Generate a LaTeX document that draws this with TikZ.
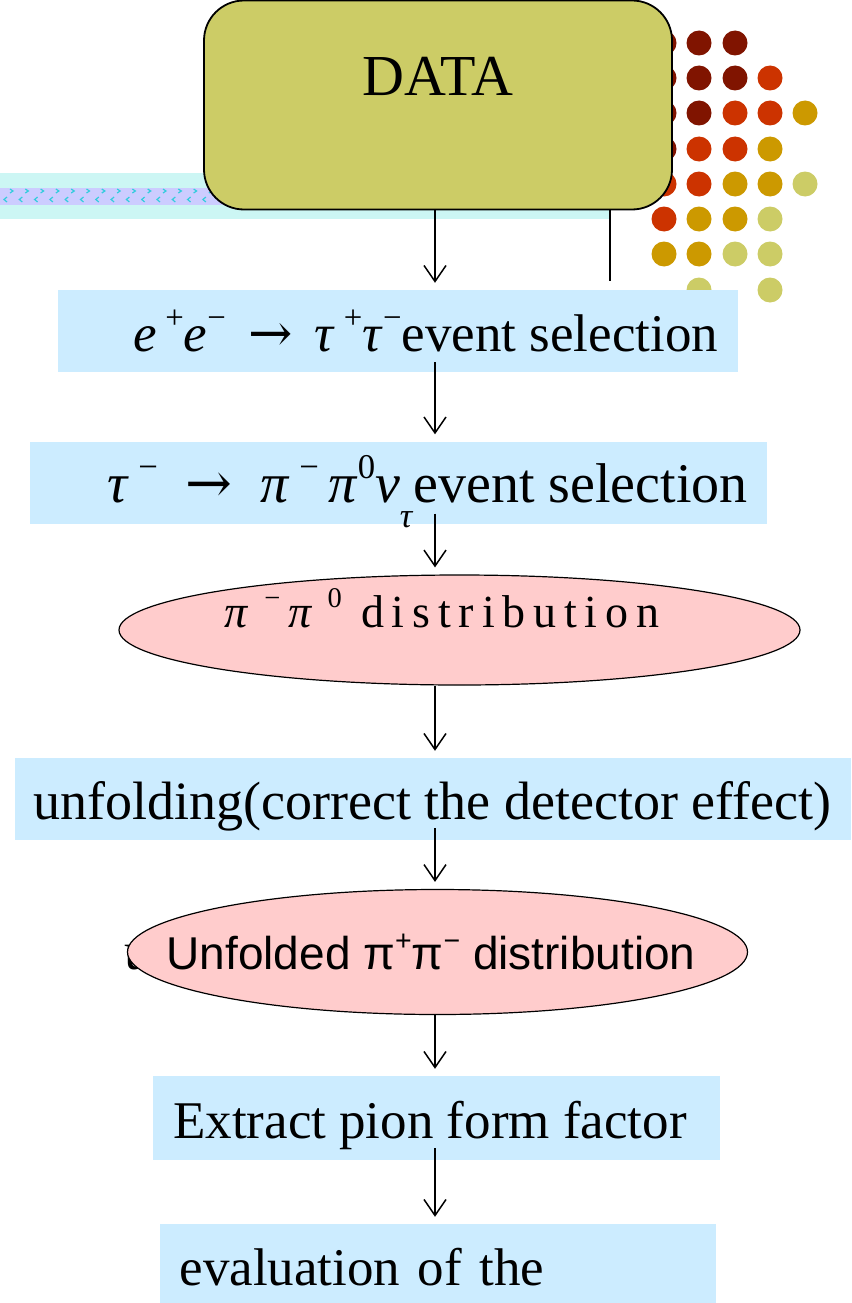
\documentclass[tikz,border=0pt]{standalone}
\usepackage{graphicx}
\usepackage{fontspec}
\setmainfont{Liberation Serif}
\newfontfamily\arialfont{Liberation Sans}
\newfontfamily\arrowfont{DejaVu Serif}
\usetikzlibrary{shapes.geometric,arrows.meta}
\definecolor{khaki}{RGB}{204,204,102}
\definecolor{boxblue}{RGB}{204,236,255}
\definecolor{ellpink}{RGB}{255,204,204}
\definecolor{dotdark}{RGB}{128,20,0}
\definecolor{dotred}{RGB}{204,51,0}
\definecolor{dotgold}{RGB}{204,153,0}
\definecolor{stripcyan}{RGB}{204,246,244}
\definecolor{striplav}{RGB}{204,204,255}
\definecolor{chevcyan}{RGB}{51,204,221}
\newcommand\upidx[1]{\raisebox{0.42em}{\scalebox{0.62}{#1}}}
\newcommand\dnidx[1]{\raisebox{-0.45em}{\scalebox{0.62}{#1}}}
\newcommand\toarrow{{\arrowfont →}}
\tikzstyle{datastart}=[rectangle,rounded corners=40pt,minimum width=468pt,minimum height=209pt,inner sep=0pt,text height=38pt,text depth=56pt,draw=black,line width=1.8pt,fill=khaki,font=\fontsize{58}{64}\selectfont]
\tikzstyle{process}=[rectangle,minimum height=82pt,inner sep=0pt,text height=40pt,text depth=0pt,text centered,fill=boxblue,font=\fontsize{53}{60}\selectfont]
\tikzstyle{result}=[ellipse,inner sep=0pt,draw=black,line width=1.2pt,fill=ellpink]
\tikzstyle{arrow}=[line width=1.5pt,-{Straight Barb[length=16pt,width=22pt]},shorten >=7pt]

\begin{document}
\begin{tikzpicture}[x=1pt,y=-1pt,node distance=150pt]
            \useasboundingbox (0,0) rectangle (851,1303);
            % strip and dots behind the DATA box
            \fill[stripcyan] (0,173) rectangle (610,219);
            \fill[striplav] (0,188) rectangle (640,205);
            \foreach \i in {0,...,41} {
                \draw[chevcyan,line width=1.2pt] (10+15.3*\i,189) -- (13+15.3*\i,191) -- (10+15.3*\i,193);
                \draw[chevcyan,line width=1.2pt] (7+15.3*\i,197) -- (4+15.3*\i,199.5) -- (7+15.3*\i,202);
            }
            \foreach \x/\y/\c in {664/43/dotdark,699/43/dotdark,735/43/dotdark,
                664/78/dotdark,699/78/dotdark,735/78/dotdark,770/78/dotred,
                664/113/dotdark,699/113/dotdark,735/113/dotred,770/113/dotred,805/113/dotgold,
                664/149/dotdark,699/149/dotred,735/149/dotred,770/149/dotgold,
                664/184/dotred,699/184/dotred,735/184/dotgold,770/184/dotgold,805/184/khaki,
                664/219/dotred,699/219/dotgold,735/219/dotgold,770/219/khaki,
                664/254/dotgold,699/254/dotgold,735/254/khaki,770/254/khaki,
                699/290/khaki,770/290/khaki}
                \fill[\c] (\x,\y) circle (12.5);
            \draw[line width=1.3pt] (610,208) -- (610,281);
            \node (data)[datastart] at (438,105) {DATA};
            \node (evsel)[process,minimum width=680pt,font=\fontsize{53}{60}\selectfont,below of=data,yshift=-76pt,xshift=-40pt]{\hspace*{55pt}\textit{e}\,\upidx{+}\textit{e}\upidx{−}\ \,\toarrow\ \,\textit{τ}\,\upidx{+}\textit{τ}\upidx{−}event selection};
            \node (pisel)[process,minimum width=737pt,font=\fontsize{56}{64}\selectfont,below of=evsel,yshift=-1.5pt]{\hspace*{59pt}\textit{τ}\,\upidx{−}\ \ \toarrow\ \ \textit{π}\,\upidx{−}\,\textit{π}\upidx{0}\textit{ν}\dnidx{\textit{τ}}event selection};
            \node (pidist)[result,minimum width=681pt,minimum height=110pt,text height=30pt,text depth=36pt,font=\fontsize{46}{52}\selectfont\addfontfeature{LetterSpace=17},below of=pisel,yshift=2.5pt,xshift=61.5pt]{\makebox[0pt]{\hspace*{-35pt}\textit{π}\,\upidx{−}\,\textit{π}\,\upidx{0} distribution}};
            \node (unfold)[process,minimum width=836pt,font=\fontsize{54}{60}\selectfont,below of=pidist,yshift=-19pt,xshift=-27pt]{unfolding(correct the detector effect)};
            \node (hidu)[anchor=base west,inner sep=0pt,font=\fontsize{53}{60}\selectfont] at (124,969) {u};
            \node (unfdist)[result,minimum width=620pt,minimum height=125pt,font=\arialfont\fontsize{46}{54}\selectfont,below of=unfold,yshift=-3pt,xshift=5pt]{\makebox[0pt]{\hspace*{-13pt}Unfolded π\upidx{+}π\upidx{−} distribution}};
            \node (pionff)[process,minimum width=567pt,minimum height=84pt,below of=unfdist,yshift=-16pt,xshift=-1.5pt]{\hspace*{-12pt}Extract pion form factor};
            \node (evalu)[process,text width=516pt,inner xsep=20pt,align=left,below of=pionff,yshift=3pt,xshift=1.5pt]{evaluation of the};
            \coordinate (spine) at (435,0);
            \draw [arrow] (spine |- data.south) -- (spine |- evsel.north);
            \draw [arrow,shorten <=-10pt] (spine |- evsel.south) -- (spine |- pisel.north);
            \draw [arrow,shorten <=-10pt] (spine |- pisel.south) -- (spine |- pidist.north);
            \draw [arrow] (spine |- pidist.south) -- (spine |- unfold.north);
            \draw [arrow,shorten <=-12pt] (spine |- unfold.south) -- (spine |- unfdist.north);
            \draw [arrow] (spine |- unfdist.south) -- (spine |- pionff.north);
            \draw [arrow,shorten <=-12pt] (spine |- pionff.south) -- (spine |- evalu.north);
        \end{tikzpicture}
\end{document}
